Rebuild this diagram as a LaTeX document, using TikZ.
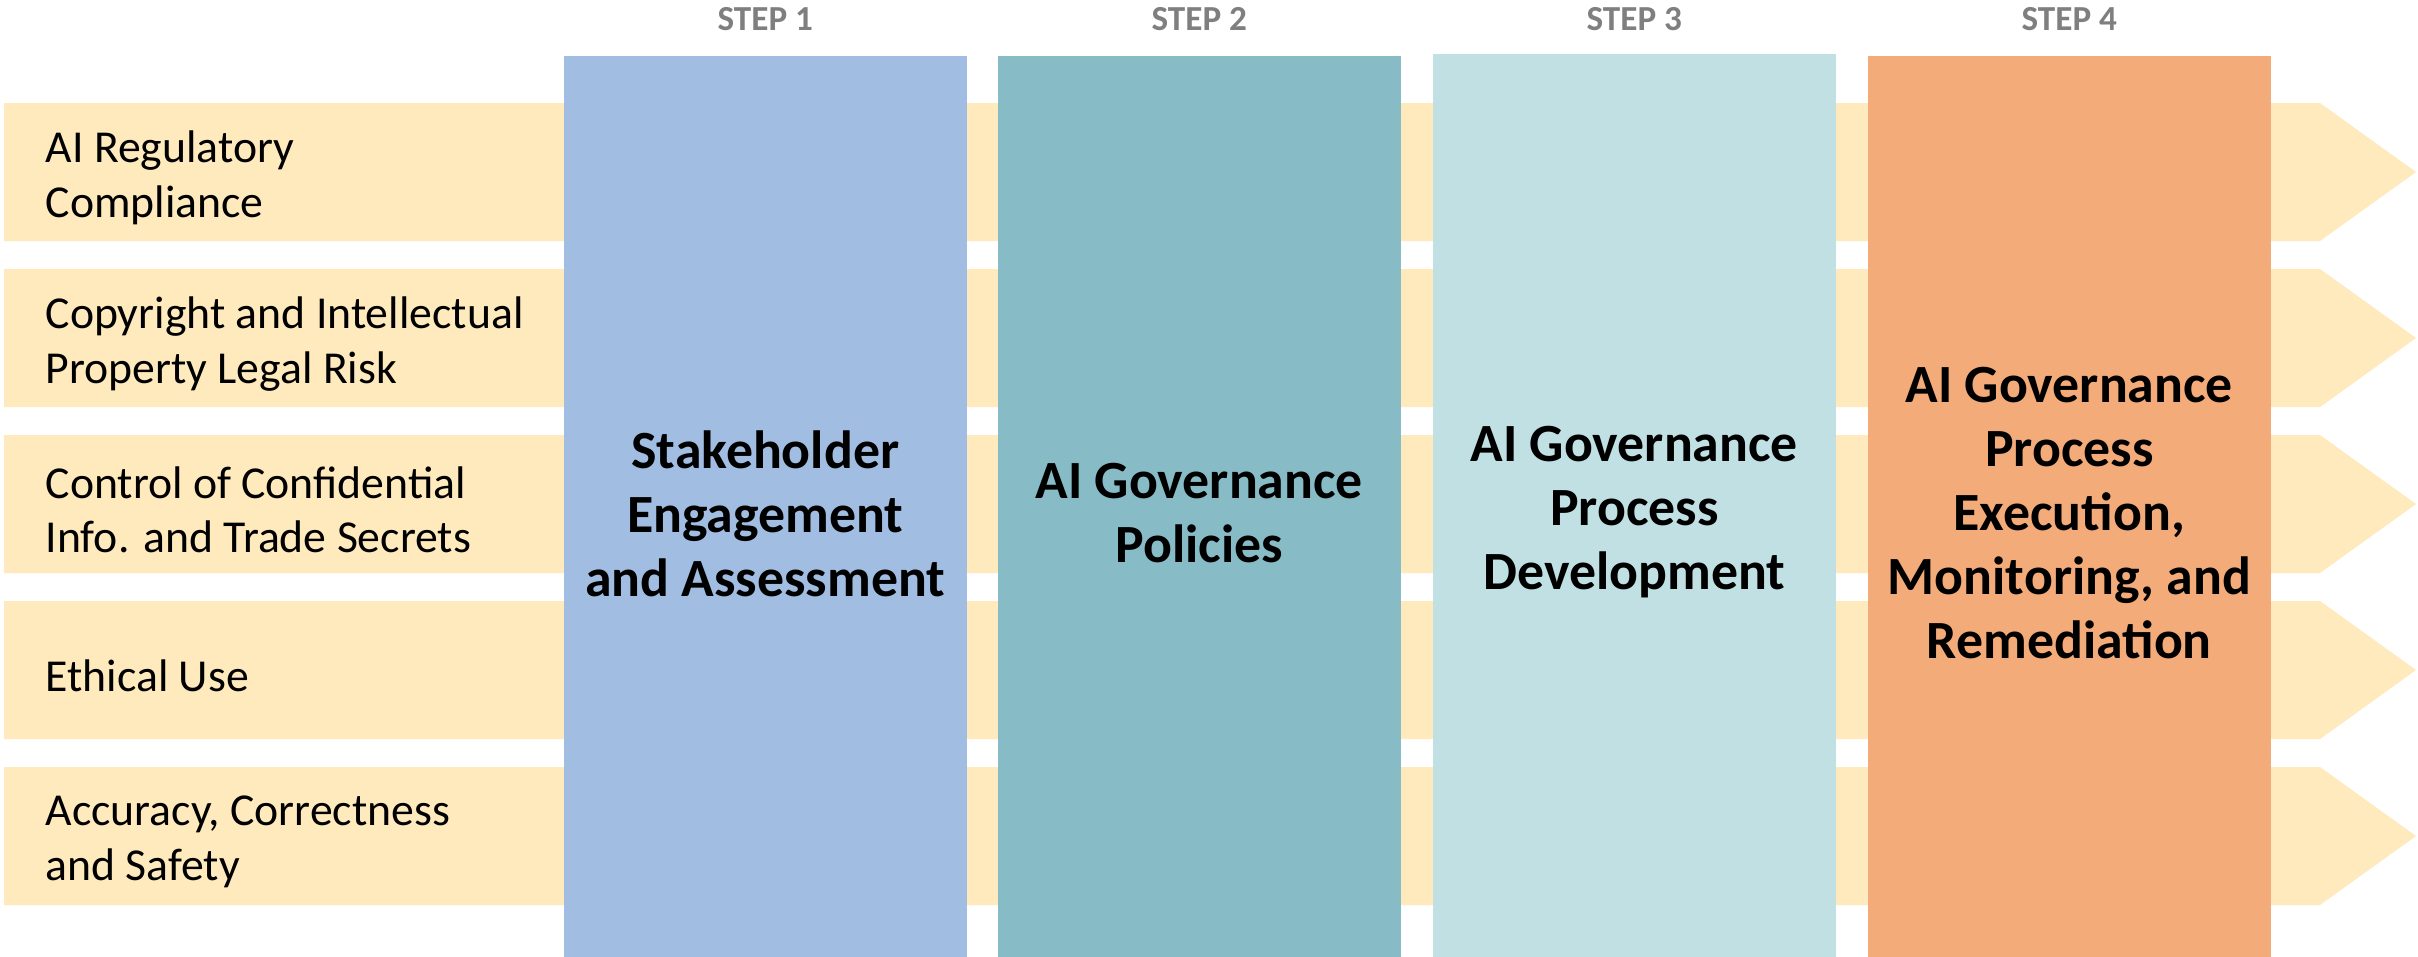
\documentclass[tikz,border=0pt]{standalone}
\usepackage{fontspec}
\setmainfont{Carlito}
\usetikzlibrary{positioning}

\definecolor{bandyellow}{HTML}{FEEABC}
\definecolor{stepblue}{HTML}{A1BDE1}
\definecolor{stepteal}{HTML}{87BBC6}
\definecolor{steplight}{HTML}{C1E0E3}
\definecolor{steporange}{HTML}{F4AB7A}
\definecolor{labelgray}{HTML}{7F7F7F}

\tikzset{
  riskband/.style={fill=bandyellow, draw=none},
  risklabel/.style={anchor=west, align=left, inner sep=0pt, font=\fontsize{13}{15.5}\selectfont},
  stepbox/.style={anchor=north west, minimum width=4.03cm, minimum height=9.15cm, inner sep=0pt,
    align=center, font=\fontsize{15.3}{18.2}\selectfont\bfseries},
  steplabel/.style={text=labelgray, inner sep=0pt, font=\fontsize{10}{12}\selectfont\bfseries}
}

\begin{document}
\begin{tikzpicture}[x=0.01cm, y=-0.01cm]
        \useasboundingbox (0,0) rectangle (2418,956);

        % Risk bands (arrows)
        \foreach \i/\txt in {0/{AI Regulatory\\Compliance},
                             1/{Copyright and Intellectual\\Property Legal Risk},
                             2/{Control of Confidential\\Info. and Trade Secrets},
                             3/{Ethical Use},
                             4/{Accuracy, Correctness\\and Safety}} {
            \pgfmathsetmacro{\top}{103+166*\i}
            \pgfmathsetmacro{\mid}{\top+69}
            \pgfmathsetmacro{\bot}{\top+138}
            \fill[riskband] (4,\top) -- (2320,\top) -- (2416,\mid) -- (2320,\bot) -- (4,\bot) -- cycle;
            \node[risklabel] (risk\i) at (45,\mid+6) {\txt};
        }

        % Step boxes (run past the bottom edge, which crops them)
        \node[stepbox, fill=stepblue] (b1) at (563,55) {Stakeholder\\Engagement\\and Assessment};
        \node[stepbox, fill=stepteal] (b2) at (997,55) {AI Governance\\Policies};
        \node[stepbox, fill=steplight, minimum height=9.17cm] (b3) at (1432,53) {AI Governance\\Process\\Development};
        \node[stepbox, fill=steporange] (b4) at (1867,55) {AI Governance\\Process\\Execution,\\Monitoring, and\\Remediation};

        % Step labels
        \foreach \n in {1,2,3,4}
            \node[steplabel] (l\n) at ([yshift=0.36cm]b\n.north |- 0,55) {STEP \n};
\end{tikzpicture}
\end{document}
